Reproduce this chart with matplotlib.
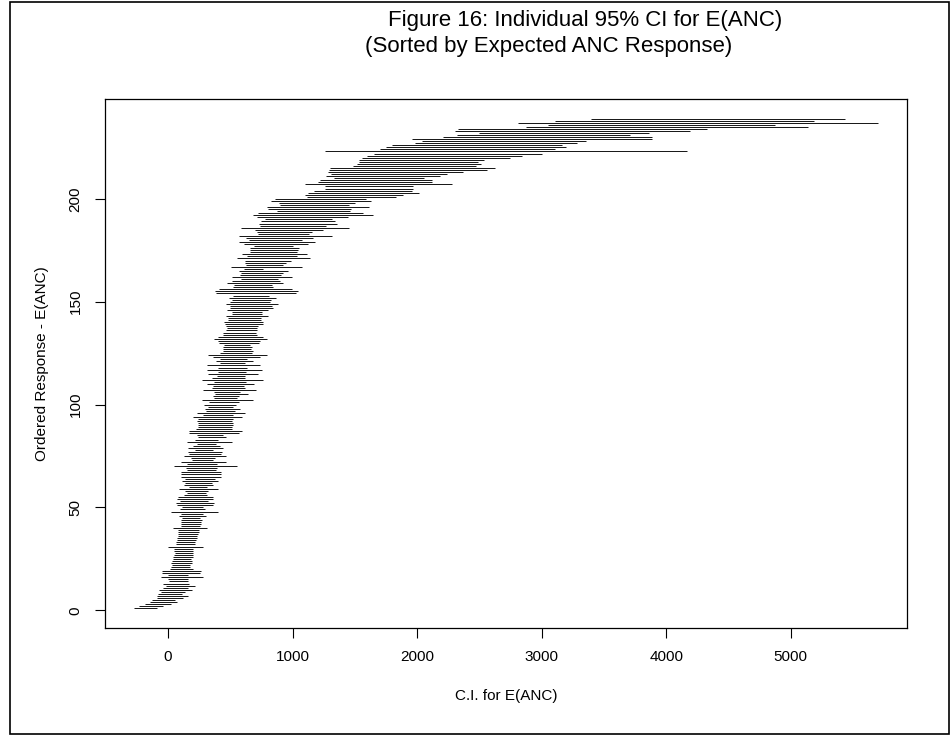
import matplotlib.pyplot as plt
from matplotlib.patches import Rectangle

plt.rcParams['font.family'] = ['Liberation Sans', 'DejaVu Sans']

# lower / upper 95% CI for E(ANC), rows sorted by expected response (bottom -> top)
lower = [
    -270, -233, -185, -144, -126, -91, -86, -78, -56, -70,
    -37, -16, -37, 8, 3, -59, 3, -45, -51, 16,
    24, 30, 24, 30, 38, 43, 48, 56, 48, 51,
    3, 64, 64, 70, 75, 83, 83, 83, 83, 43,
    102, 105, 102, 102, 110, 91, 102, 24, 96, 110,
    75, 64, 96, 75, 83, 129, 155, 137, 91, 171,
    129, 137, 110, 137, 105, 105, 105, 150, 145, 48,
    150, 107, 193, 182, 129, 171, 163, 217, 163, 204,
    230, 155, 217, 238, 230, 171, 171, 222, 238, 238,
    238, 230, 238, 203, 284, 230, 305, 297, 324, 289,
    332, 270, 372, 364, 377, 372, 284, 351, 359, 310,
    372, 276, 351, 391, 324, 404, 310, 404, 316, 417,
    385, 417, 364, 324, 417, 439, 439, 439, 450, 412,
    404, 369, 404, 444, 444, 466, 471, 466, 458, 450,
    485, 485, 463, 516, 516, 476, 498, 498, 463, 498,
    511, 490, 524, 385, 377, 412, 524, 532, 476, 511,
    586, 511, 578, 586, 570, 610, 506, 626, 618, 618,
    551, 631, 597, 658, 658, 658, 690, 610, 572, 653,
    626, 572, 725, 717, 698, 586, 738, 733, 746, 779,
    712, 680, 726, 873, 806, 792, 900, 892, 827, 859,
    1114, 1100, 1127, 1173, 1261, 1261, 1100, 1207, 1221, 1333,
    1269, 1309, 1288, 1293, 1301, 1488, 1515, 1537, 1537, 1560,
    1600, 1650, 1261, 1700, 1750, 1800, 1983, 2042, 1962, 2206,
    2318, 2497, 2305, 2331, 2872, 3054, 2808, 3108, 3394,
]
upper = [
    -86, -37, 24, 70, 56, 123, 158, 115, 137, 190,
    163, 217, 171, 163, 163, 279, 163, 257, 262, 204,
    177, 177, 190, 190, 182, 198, 204, 204, 204, 204,
    279, 217, 217, 222, 230, 230, 244, 249, 249, 311,
    257, 265, 265, 270, 257, 303, 284, 404, 297, 284,
    359, 370, 324, 359, 359, 311, 305, 324, 399, 311,
    364, 351, 399, 378, 423, 423, 423, 386, 396, 552,
    391, 463, 364, 378, 463, 423, 431, 359, 445, 418,
    383, 511, 404, 466, 439, 573, 592, 517, 511, 519,
    519, 511, 525, 591, 525, 618, 538, 578, 525, 546,
    573, 685, 557, 573, 640, 578, 707, 618, 610, 690,
    626, 760, 618, 618, 720, 626, 752, 632, 739, 618,
    680, 637, 739, 798, 672, 680, 664, 672, 658, 733,
    739, 792, 760, 717, 707, 717, 717, 725, 766, 766,
    744, 744, 805, 752, 757, 805, 846, 832, 880, 819,
    824, 864, 813, 1028, 1041, 993, 840, 832, 920, 899,
    880, 993, 904, 920, 960, 760, 1073, 920, 947, 985,
    1140, 1033, 1113, 1038, 1046, 1052, 1006, 1121, 1180, 1073,
    1161, 1314, 1132, 1153, 1242, 1453, 1266, 1354, 1341, 1314,
    1443, 1644, 1563, 1462, 1467, 1614, 1454, 1502, 1630, 1590,
    1828, 1890, 2019, 1957, 1970, 1970, 2278, 2118, 2118, 2056,
    2184, 2238, 2366, 2559, 2626, 2474, 2511, 2492, 2538, 2746,
    2845, 3001, 4165, 3108, 3193, 3161, 3287, 3354, 3884, 3889,
    3710, 3865, 4187, 4331, 5134, 4869, 5696, 5190, 5431,
]
rows = list(range(1, len(lower) + 1))

xticks = [0, 1000, 2000, 3000, 4000, 5000]
yticks = [0, 50, 100, 150, 200]

fig = plt.figure(figsize=(9.51, 7.36), dpi=100)
ax = fig.add_axes([0.110, 0.147, 0.844, 0.7185])

ax.hlines(rows, lower, upper, colors='#1a1a1a', linewidth=0.72)
ax.margins(x=0.04, y=0.04)

ax.set_xticks(xticks)
ax.set_yticks(yticks)
ax.tick_params(direction='out', length=7, width=0.8, labelsize=11, pad=9)
for lab in ax.get_yticklabels():
    lab.set_rotation(90)
    lab.set_va('center')
for s in ax.spines.values():
    s.set_linewidth(0.9)

ax.set_xlabel('C.I. for E(ANC)', fontsize=11, labelpad=18)
ax.set_ylabel('Ordered Response - E(ANC)', fontsize=11, labelpad=14)

fig.text(0.408, 0.972, 'Figure 16: Individual 95% CI for E(ANC)', fontsize=16, va='center')
fig.text(0.384, 0.937, '(Sorted by Expected ANC Response)', fontsize=16, va='center')

# outer frame around the whole figure
fig.patches.append(Rectangle((0.0105, 0.0025), 0.987, 0.995, transform=fig.transFigure,
                             fill=False, edgecolor='black', linewidth=1.2))

fig.savefig('out.png', dpi=100)
